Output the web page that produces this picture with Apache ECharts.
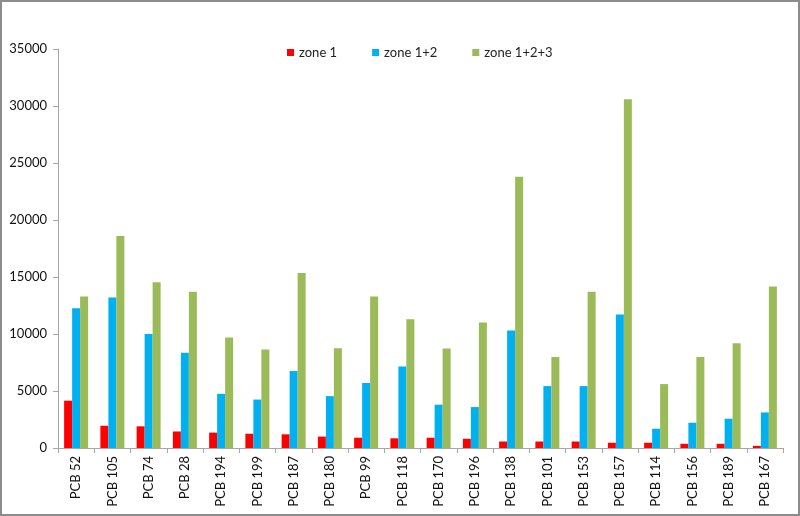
<!DOCTYPE html>
<html><head><meta charset="utf-8">
<script src="https://cdn.jsdelivr.net/npm/echarts@6/dist/echarts.min.js"></script>
<style>html,body{margin:0;padding:0;background:#fff}#c{width:800px;height:516px;box-sizing:border-box;border:2px solid #8c8c8c}</style>
</head><body><div id="c"></div>
<script>
const categories = ["PCB 52","PCB 105","PCB 74","PCB 28","PCB 194","PCB 199","PCB 187","PCB 180","PCB 99","PCB 118","PCB 170","PCB 196","PCB 138","PCB 101","PCB 153","PCB 157","PCB 114","PCB 156","PCB 189","PCB 167"];
const zone1 = [4150,1950,1900,1450,1350,1250,1200,1000,900,850,900,810,570,570,570,460,460,370,370,190];
const zone12 = [12250,13200,10000,8350,4750,4250,6750,4550,5700,7150,3800,3590,10300,5430,5430,11710,1690,2215,2570,3120];
const zone123 = [13300,18600,14550,13700,9700,8650,15350,8750,13300,11300,8720,11010,23800,7990,13700,30600,5610,7990,9190,14170];
const seriesNames = ["zone 1","zone 1+2","zone 1+2+3"];
const colors = ["#FF0000","#00B0F0","#9BBB59"];
const font = "Lato, 'Open Sans', sans-serif";
const chart = echarts.init(document.getElementById('c'));
const data = [zone1, zone12, zone123];
chart.setOption({
  animation:false,
  textStyle:{fontFamily:font},
  legend:{left:280,top:39,itemWidth:7,itemHeight:7,itemGap:35,icon:'rect',
    textStyle:{fontSize:13,color:'#222',fontFamily:font},
    data:seriesNames},
  grid:{left:56,right:15,top:47,bottom:66},
  xAxis:{type:'category',data:categories,
    axisLine:{lineStyle:{color:'#a6a6a6'}},
    axisTick:{show:true,alignWithLabel:false,length:5,lineStyle:{color:'#a6a6a6'}},
    axisLabel:{rotate:90,interval:0,fontSize:13,color:'#111',margin:8,fontFamily:font}},
  yAxis:{type:'value',min:0,max:35000,interval:5000,
    splitLine:{show:false},
    axisLine:{show:true,lineStyle:{color:'#a6a6a6'}},
    axisTick:{show:true,length:5,lineStyle:{color:'#a6a6a6'}},
    axisLabel:{fontSize:13,color:'#111',margin:11,fontFamily:font,formatter:v=>String(v)}},
  series:seriesNames.map((n,i)=>({name:n,type:'bar',data:data[i],barWidth:8,barGap:'0%',
    itemStyle:{color:colors[i]}}))
});
</script></body></html>
